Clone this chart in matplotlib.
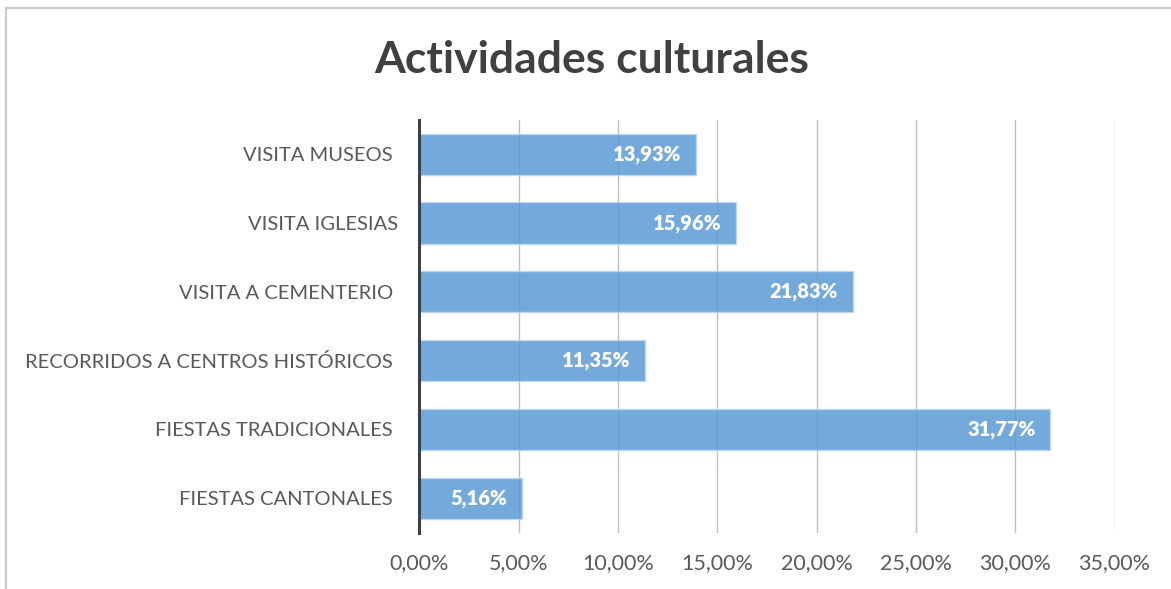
import matplotlib
matplotlib.use("Agg")
import matplotlib.pyplot as plt
from matplotlib.patches import Rectangle
from matplotlib.ticker import FuncFormatter

# data (top to bottom as shown)
categories = [
    "VISITA MUSEOS ",
    "VISITA IGLESIAS",
    "VISITA A CEMENTERIO ",
    "RECORRIDOS A CENTROS HISTÓRICOS ",
    "FIESTAS TRADICIONALES ",
    "FIESTAS CANTONALES ",
]
values = [13.93, 15.96, 21.83, 11.35, 31.77, 5.16]
xticks = [0, 5, 10, 15, 20, 25, 30, 35]

font = "Lato"
plt.rcParams["font.family"] = [font, "DejaVu Sans"]

fig = plt.figure(figsize=(11.71, 5.89), dpi=100)
ax = fig.add_axes([0.3582, 0.0959, 0.5936, 0.7004])

ypos = list(range(len(categories)))[::-1]
ax.barh(ypos, values, height=0.6, color="#5B9BD5", alpha=0.85,
        edgecolor="#BDD7EE", linewidth=1.0, zorder=3)

for y, v in zip(ypos, values):
    ax.text(v - 0.75, y, f"{v:.2f}%".replace(".", ","), ha="right",
            va="center", color="white", fontsize=14.5, fontweight="heavy",
            zorder=4)

ax.set_xlim(0, 35)
ax.set_ylim(-0.5, len(categories) - 0.5)
ax.set_xticks(xticks)
ax.xaxis.set_major_formatter(FuncFormatter(lambda x, p: f"{x:.2f}%".replace(".", ",")))
ax.set_yticks(ypos)
ax.set_yticklabels(categories)

ax.grid(axis="x", color="#BFBFBF", linewidth=1.0, zorder=0)
ax.set_axisbelow(True)
for s in ["top", "right", "bottom"]:
    ax.spines[s].set_visible(False)
ax.spines["left"].set_color("#404040")
ax.spines["left"].set_linewidth(2.2)
ax.spines["left"].set_zorder(5)

ax.tick_params(axis="x", length=0, pad=15, labelsize=15.5, labelcolor="#595959")
ax.tick_params(axis="y", length=0, pad=15.5, labelsize=14.5, labelcolor="#595959")

fig.text(592 / 1171, 1 - 60 / 589, "Actividades culturales", ha="center",
         va="center", fontsize=32, fontweight="bold", color="#404040")

# chart frame (partly cropped in the original)
fig.patches.append(Rectangle((6 / 1171, -0.1), 1.2, 1 - 8 / 589 + 0.1,
                             transform=fig.transFigure, fill=False,
                             edgecolor="#C8C8C8", linewidth=1.5))

fig.savefig("out.png", dpi=100)
